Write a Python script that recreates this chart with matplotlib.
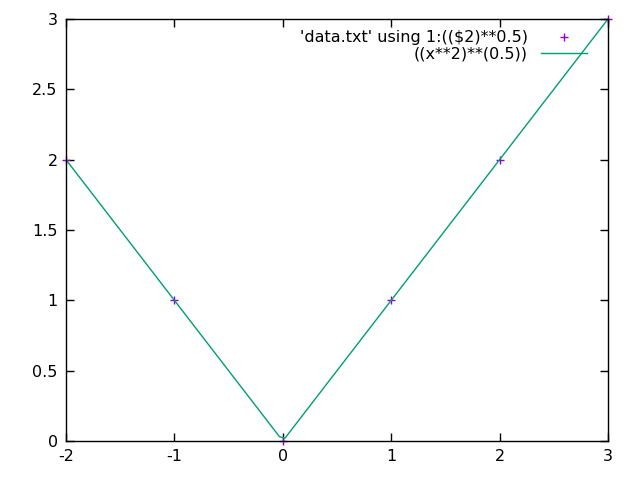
import numpy as np
import matplotlib
matplotlib.use("Agg")
import matplotlib.pyplot as plt

# data points from data.txt (x, sqrt(y))
data_x = [-2, -1, 0, 1, 2, 3]
data_y = [2, 1, 0, 1, 2, 3]

# function ((x**2)**(0.5)) sampled like gnuplot (100 samples)
fx = np.linspace(-2, 3, 100)
fy = np.sqrt(fx ** 2)

fig = plt.figure(figsize=(6.4, 4.8), dpi=100)
ax = fig.add_axes([66 / 640, 1 - 441 / 480, (608 - 66) / 640, (441 - 19) / 480])

ax.plot(data_x, data_y, linestyle="none", marker="+", color="#9400d3",
        markersize=6, markeredgewidth=1, label="'data.txt' using 1:(($2)**0.5)", clip_on=False)
ax.plot(fx, fy, color="#009e73", linewidth=1, label="((x**2)**(0.5))")

ax.set_xlim(-2, 3)
ax.set_ylim(0, 3)
ax.set_xticks([-2, -1, 0, 1, 2, 3])
ax.set_xticklabels(["-2", "-1", "0", "1", "2", "3"])
ax.set_yticks([0, 0.5, 1, 1.5, 2, 2.5, 3])
ax.set_yticklabels(["0", "0.5", "1", "1.5", "2", "2.5", "3"])
ax.tick_params(direction="in", top=True, right=True, length=6, width=1, labelsize=11.5, pad=6)
for s in ax.spines.values():
    s.set_linewidth(1)

ax.legend(loc="upper right", frameon=False, markerfirst=False, fontsize=11.5,
          handlelength=2.9, borderaxespad=0.3, labelspacing=0.1,
          bbox_to_anchor=(0.982, 1.0))

fig.savefig("out.png", dpi=100)
